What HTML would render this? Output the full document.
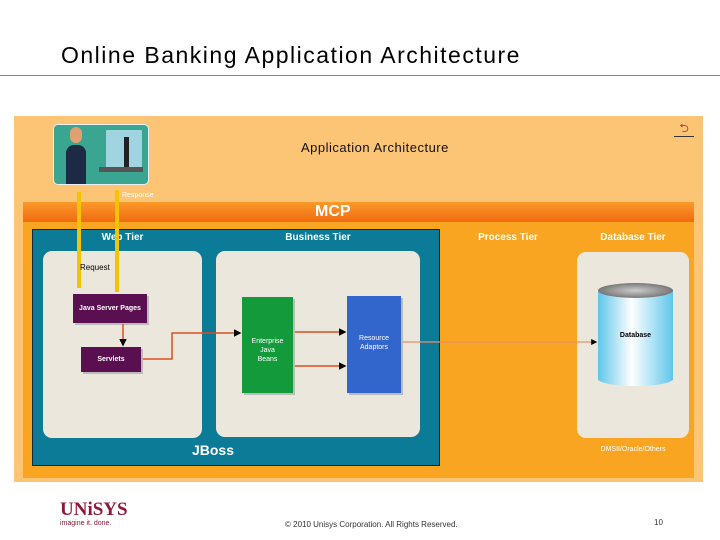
<!DOCTYPE html>
<html><head><style>
body{margin:0;width:720px;height:540px;background:#fff;position:relative;overflow:hidden;font-family:"Liberation Sans",Arial,sans-serif}
.a{position:absolute}
.t{color:#fff;font-weight:bold;font-size:10px;text-align:center}
</style></head><body>
<div class="a" style="left:61px;top:42px;font-size:23px;letter-spacing:1.5px;color:#000">Online Banking Application Architecture</div>
<div class="a" style="left:0;top:75px;width:720px;height:1px;background:#b06a96"></div>

<div class="a" style="left:14px;top:116px;width:689px;height:366px;background:#fcc475"></div>
<div class="a" style="left:301px;top:140px;font-size:13px;letter-spacing:0.5px;color:#111">Application Architecture</div>
<div class="a" style="left:674px;top:122px;width:20px;height:14px;border-bottom:1px solid #333;font-size:12px;color:#c0392b;text-align:center;line-height:12px">⮌</div>

<!-- person -->
<div class="a" style="left:53px;top:124px;width:94px;height:59px;border-radius:5px;background:#3aa590;border:1px solid #eee;overflow:hidden">
 <div class="a" style="left:52px;top:5px;width:36px;height:40px;background:#9fd4e0"></div>
 <div class="a" style="left:70px;top:12px;width:5px;height:30px;background:#222"></div>
 <div class="a" style="left:45px;top:42px;width:44px;height:5px;background:#555"></div>
 <div class="a" style="left:12px;top:20px;width:20px;height:40px;background:#1c2a44;border-radius:8px 8px 0 0"></div>
 <div class="a" style="left:16px;top:2px;width:12px;height:16px;background:#e0a070;border-radius:6px"></div>
</div>

<!-- MCP -->
<div class="a" style="left:23px;top:202px;width:671px;height:276px;background:#f9a521"></div>
<div class="a" style="left:23px;top:202px;width:671px;height:20px;background:linear-gradient(#fb9a2a,#f06a10)"></div>
<div class="a" style="left:315px;top:203px;color:#fff;font-weight:bold;font-size:16px">MCP</div>

<div class="a" style="left:32px;top:229px;width:406px;height:235px;background:#0b7b98;border:1px solid #102a3a"></div>
<div class="a t" style="left:43px;top:232px;width:159px">Web Tier</div>
<div class="a t" style="left:216px;top:232px;width:204px">Business Tier</div>
<div class="a t" style="left:448px;top:232px;width:120px">Process Tier</div>
<div class="a t" style="left:577px;top:232px;width:112px">Database Tier</div>
<div class="a" style="left:43px;top:251px;width:159px;height:187px;background:#ece7dc;border-radius:9px"></div>
<div class="a" style="left:216px;top:251px;width:204px;height:186px;background:#ece7dc;border-radius:9px"></div>
<div class="a" style="left:577px;top:252px;width:112px;height:186px;background:#ece7dc;border-radius:9px"></div>
<div class="a t" style="left:32px;top:442px;width:362px;font-size:14px">JBoss</div>
<div class="a" style="left:577px;top:446px;width:112px;text-align:center;color:#fff;font-size:7px">DMSII/Oracle/Others</div>

<div class="a t" style="left:73px;top:294px;width:74px;height:29px;line-height:29px;background:#5a0f50;font-size:7px;box-shadow:2px 2px 0 #bbb">Java Server Pages</div>
<div class="a t" style="left:81px;top:347px;width:60px;height:25px;line-height:25px;background:#5a0f50;font-size:7px;box-shadow:2px 2px 0 #bbb">Servlets</div>
<div class="a t" style="left:242px;top:297px;width:51px;height:96px;background:#139a3a;font-size:7px;font-weight:normal;line-height:9px;box-sizing:border-box;padding-top:40px;box-shadow:2px 2px 0 #bbb">Enterprise<br>Java<br>Beans</div>
<div class="a t" style="left:347px;top:296px;width:54px;height:97px;background:#3366cc;font-size:7px;font-weight:normal;line-height:9px;box-sizing:border-box;padding-top:38px;box-shadow:2px 2px 0 #bbb">Resource<br>Adaptors</div>

<!-- cylinder -->
<div class="a" style="left:598px;top:290px;width:75px;height:90px;background:linear-gradient(90deg,#5fc6ea,#fff 45%,#5fc6ea)"></div>
<div class="a" style="left:598px;top:372px;width:75px;height:14px;border-radius:50%;background:linear-gradient(90deg,#5fc6ea,#fff 45%,#5fc6ea)"></div>
<div class="a" style="left:598px;top:283px;width:75px;height:15px;border-radius:50%;background:radial-gradient(#ccc,#555)"></div>
<div class="a" style="left:598px;top:332px;width:75px;text-align:center;font-size:7px;font-weight:bold">Database</div>

<svg class="a" style="left:0;top:0" width="720" height="540">
<defs><marker id="m" markerWidth="5" markerHeight="5" refX="4" refY="2.5" orient="auto"><path d="M0,0L5,2.5L0,5z" fill="#000"/></marker></defs>
<line x1="79" y1="192" x2="79" y2="288" stroke="#f5c400" stroke-width="4"/>
<line x1="117" y1="292" x2="117" y2="190" stroke="#f5c400" stroke-width="4"/>
<g stroke="#d9501e" stroke-width="1.5" fill="none">
<line x1="123" y1="324" x2="123" y2="345" marker-end="url(#m)"/>
<polyline points="143,359 172,359 172,333 240,333" marker-end="url(#m)"/>
<line x1="295" y1="332" x2="345" y2="332" marker-end="url(#m)"/>
<line x1="295" y1="366" x2="345" y2="366" marker-end="url(#m)"/>
</g>
<line x1="403" y1="342" x2="596" y2="342" stroke="#e8906a" stroke-width="1.2" marker-end="url(#m)"/>
</svg>
<div class="a" style="left:122px;top:192px;font-size:7px;color:#fff">Response</div>
<div class="a" style="left:80px;top:263px;font-size:8px;color:#000">Request</div>

<div class="a" style="left:60px;top:499px;font-family:'Liberation Serif',serif;font-weight:bold;font-size:19px;color:#8b1a3a">UNiSYS</div>
<div class="a" style="left:60px;top:520px;font-size:7px;color:#8b1a3a">imagine it. done.</div>
<div class="a" style="left:285px;top:520px;font-size:8px;color:#333">© 2010 Unisys Corporation. All Rights Reserved.</div>
<div class="a" style="left:654px;top:518px;font-size:8px;color:#333">10</div>
</body></html>
